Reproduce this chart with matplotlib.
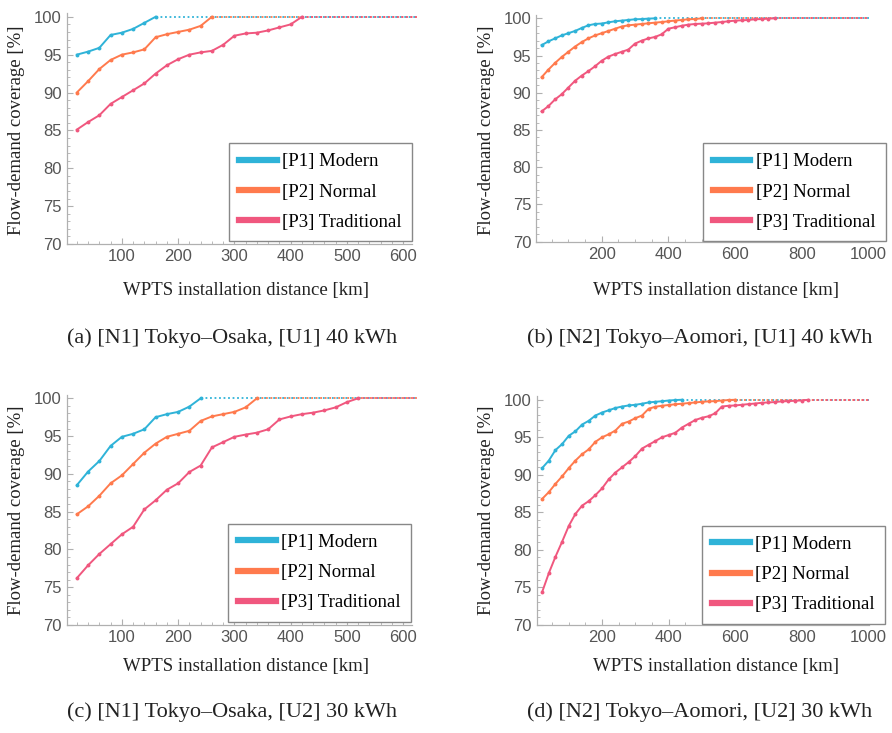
import numpy as np
import matplotlib
matplotlib.use("Agg")
import matplotlib.pyplot as plt
from matplotlib.ticker import MultipleLocator

# ---------------- data ----------------
step_km = 20
series_names = ["[P1] Modern", "[P2] Normal", "[P3] Traditional"]
colors = ["#2FB3D8", "#FF7A4D", "#F0577E"]

a_p1 = [95.0, 95.4, 95.9, 97.6, 97.9, 98.4, 99.2, 100]
a_p2 = [90.0, 91.5, 93.1, 94.3, 95.0, 95.3, 95.7, 97.3, 97.7, 98.0, 98.3, 98.8, 100]
a_p3 = [85.1, 86.1, 87.0, 88.5, 89.4, 90.3, 91.2, 92.5, 93.6, 94.4, 95.0, 95.3, 95.5,
        96.3, 97.5, 97.8, 97.9, 98.2, 98.6, 99.0, 100]

b_p1 = [96.4, 96.9, 97.3, 97.7, 98.0, 98.3, 98.7, 99.06, 99.24, 99.3, 99.46, 99.6,
        99.69, 99.78, 99.87, 99.9, 99.96, 100]
b_p2 = [92.1, 93.1, 94.0, 94.8, 95.5, 96.2, 96.8, 97.3, 97.7, 98.0, 98.3, 98.6, 98.9,
        99.06, 99.15, 99.24, 99.33, 99.42, 99.5, 99.6, 99.7, 99.78, 99.87, 99.9, 100]
b_p3 = [87.5, 88.2, 89.1, 89.8, 90.7, 91.6, 92.3, 92.9, 93.55, 94.3, 94.85, 95.2, 95.5,
        95.8, 96.6, 97.0, 97.3, 97.5, 97.85, 98.6, 98.8, 99.0, 99.15, 99.24, 99.28,
        99.33, 99.42, 99.5, 99.6, 99.69, 99.73, 99.78, 99.87, 99.9, 99.96, 100]

c_p1 = [88.5, 90.3, 91.7, 93.7, 94.9, 95.3, 95.9, 97.5, 97.9, 98.2, 98.9, 100]
c_p2 = [84.65, 85.7, 87.1, 88.75, 89.8, 91.3, 92.8, 94.0, 94.9, 95.3, 95.7, 97.0, 97.6,
        97.9, 98.2, 98.8, 100]
c_p3 = [76.2, 77.9, 79.4, 80.7, 82.0, 83.0, 85.3, 86.5, 87.9, 88.75, 90.25, 91.1, 93.5,
        94.2, 94.9, 95.2, 95.45, 95.9, 97.2, 97.6, 97.9, 98.1, 98.4, 98.8, 99.5, 100]

d_p1 = [90.9, 91.9, 93.3, 94.1, 95.2, 95.8, 96.7, 97.2, 97.9, 98.3, 98.6, 98.9, 99.1,
        99.24, 99.33, 99.47, 99.64, 99.73, 99.8, 99.9, 99.96, 100]
d_p2 = [86.8, 87.7, 88.8, 89.8, 90.9, 91.9, 92.75, 93.4, 94.4, 95.0, 95.4, 95.9, 96.8,
        97.1, 97.55, 97.9, 98.8, 99.07, 99.2, 99.3, 99.4, 99.47, 99.56, 99.64, 99.73,
        99.78, 99.82, 99.9, 99.96, 100]
d_p3 = [74.4, 76.9, 79.1, 81.1, 83.2, 84.8, 85.9, 86.5, 87.3, 88.2, 89.4, 90.3, 91.0,
        91.7, 92.5, 93.5, 94.0, 94.5, 95.0, 95.3, 95.6, 96.3, 96.8, 97.3, 97.6, 97.8,
        98.2, 99.1, 99.2, 99.24, 99.33, 99.42, 99.5, 99.6, 99.64, 99.7, 99.78, 99.82,
        99.87, 99.9, 100]

captions = ["(a) [N1] Tokyo\u2013Osaka, [U1] 40 kWh",
            "(b) [N2] Tokyo\u2013Aomori, [U1] 40 kWh",
            "(c) [N1] Tokyo\u2013Osaka, [U2] 30 kWh",
            "(d) [N2] Tokyo\u2013Aomori, [U2] 30 kWh"]
xlabel = "WPTS installation distance [km]"
ylabel = "Flow-demand coverage [%]"

panels = [
    dict(data=[a_p1, a_p2, a_p3], xlim=(2, 615), dot_end=625, major=100, minor=20,
         rect=[66.7, 13, 411.7, 244], leg=(229, 143), cap=(232, 338),
         xl=(246, 290), yl=(17, 130)),
    dict(data=[b_p1, b_p2, b_p3], xlim=(3, 1002), dot_end=1002, major=200, minor=50,
         rect=[536, 14.6, 869, 241.7], leg=(702.5, 143), cap=(700, 338),
         xl=(716, 290), yl=(487, 130)),
    dict(data=[c_p1, c_p2, c_p3], xlim=(2, 615), dot_end=625, major=100, minor=20,
         rect=[66.7, 394.5, 411.7, 625], leg=(228, 523.5), cap=(232, 712),
         xl=(246, 666), yl=(17, 510)),
    dict(data=[d_p1, d_p2, d_p3], xlim=(3, 1002), dot_end=1002, major=200, minor=50,
         rect=[536.5, 396, 869, 625], leg=(702, 525.5), cap=(700, 712),
         xl=(716, 666), yl=(487, 510)),
]

W, H = 892, 733
fig = plt.figure(figsize=(W / 100, H / 100), dpi=100)
serif = ["Liberation Serif", "DejaVu Serif"]
sans = ["Liberation Sans", "DejaVu Sans"]
tick_col = "#555555"
spine_col = "#b0b0b0"

for i, p in enumerate(panels):
    l, t, r, b = p["rect"]
    ax = fig.add_axes([l / W, 1 - b / H, (r - l) / W, (b - t) / H])
    for j, vals in enumerate(p["data"]):
        x = step_km * np.arange(1, len(vals) + 1)
        ax.plot(x, vals, color=colors[j], lw=1.4, marker="o", ms=2.8,
                markeredgewidth=0, zorder=3 + j)
        ax.plot([x[-1], p["dot_end"]], [vals[-1], vals[-1]], color=colors[j], lw=1.3,
                ls=(0, (1, 1.5)), zorder=2, clip_on=False)
    ax.set_xlim(*p["xlim"])
    ax.set_ylim(70, 100.5)
    ax.xaxis.set_major_locator(MultipleLocator(p["major"]))
    ax.xaxis.set_minor_locator(MultipleLocator(p["minor"]))
    ax.yaxis.set_major_locator(MultipleLocator(5))
    ax.yaxis.set_minor_locator(MultipleLocator(1))
    for s in ["top", "right"]:
        ax.spines[s].set_visible(False)
    for s in ["left", "bottom"]:
        ax.spines[s].set_color(spine_col)
        ax.spines[s].set_linewidth(0.9)
    ax.tick_params(which="major", direction="in", length=4, width=0.8, color=spine_col,
                   labelcolor=tick_col, labelsize=12, pad=3.5)
    ax.tick_params(which="minor", direction="in", length=2.2, width=0.6, color=spine_col)
    for lab in ax.get_xticklabels() + ax.get_yticklabels():
        lab.set_fontfamily(sans)
    handles = [plt.Line2D([], [], color=colors[j], lw=4.5) for j in range(3)]
    lx, ly = p["leg"]
    leg = ax.legend(handles, series_names, loc="upper left",
                    bbox_to_anchor=(lx / W, 1 - ly / H), bbox_transform=fig.transFigure,
                    prop={"family": serif, "size": 13.5}, frameon=True, fancybox=False,
                    edgecolor="#888888", framealpha=1, borderpad=0.55, labelspacing=0.7,
                    handlelength=2.0, handletextpad=0.3, borderaxespad=0)
    leg.get_frame().set_linewidth(1.0)
    fig.text(p["xl"][0] / W, 1 - p["xl"][1] / H, xlabel, ha="center", va="center",
             family=serif, size=13.5, color="#222222")
    fig.text(p["yl"][0] / W, 1 - p["yl"][1] / H, ylabel, ha="center", va="center",
             rotation=90, family=serif, size=13.5, color="#222222")
    fig.text(p["cap"][0] / W, 1 - p["cap"][1] / H, captions[i], ha="center", va="center",
             family=serif, size=16, color="#222222")

fig.savefig("out.png", dpi=100)
